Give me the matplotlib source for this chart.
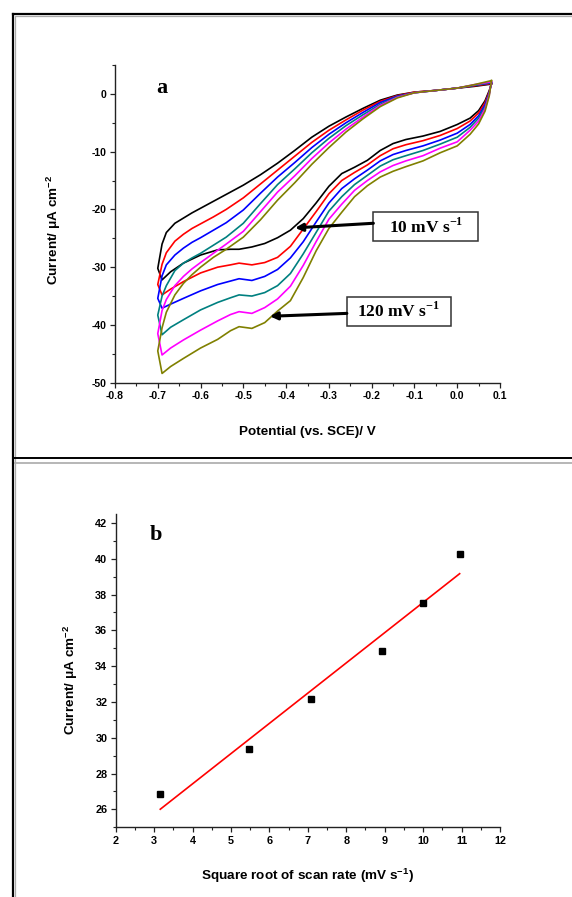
import matplotlib
matplotlib.use("Agg")

import matplotlib.pyplot as plt
from matplotlib.lines import Line2D
from matplotlib.patches import Rectangle
from matplotlib.ticker import MultipleLocator
import numpy as np

plt.rcParams["axes.unicode_minus"] = False

# ---- panel a: CVs at 10..120 mV/s ----
SCAN_RATES = [10, 30, 50, 80, 100, 120]
CV_COLORS = ["black", "red", "blue", "#008080", "magenta", "#808000"]

# anodic (upper) branch potentials, V
E_UP = [-0.700, -0.690, -0.680, -0.660, -0.640, -0.620, -0.600, -0.570, -0.540, -0.500, -0.460, -0.420,
        -0.380, -0.340, -0.300, -0.260, -0.220, -0.180, -0.140, -0.100, -0.050, 0.000, 0.040, 0.080]
UP_10 = [-30.2, -26.0, -24.0, -22.4, -21.5, -20.6, -19.8, -18.6, -17.4, -15.8, -14.0, -12.0,
         -9.8, -7.5, -5.6, -4.0, -2.5, -1.1, -0.2, 0.3, 0.6, 1.0, 1.3, 1.7]
UP_30 = [-33.0, -29.5, -27.5, -25.5, -24.3, -23.3, -22.5, -21.3, -20.0, -18.0, -15.6, -13.2,
         -10.8, -8.4, -6.3, -4.5, -2.8, -1.3, -0.3, 0.3, 0.6, 1.0, 1.4, 1.8]
UP_50 = [-35.4, -31.5, -29.6, -27.9, -26.7, -25.7, -24.9, -23.6, -22.3, -20.1, -17.2, -14.4,
         -11.9, -9.3, -7.0, -5.0, -3.2, -1.5, -0.4, 0.2, 0.6, 1.0, 1.5, 1.9]
UP_80 = [-38.3, -35.0, -33.2, -30.6, -29.3, -28.4, -27.6, -26.2, -24.8, -22.4, -19.0, -15.7,
         -13.0, -10.2, -7.7, -5.5, -3.6, -1.8, -0.5, 0.2, 0.6, 1.0, 1.5, 2.0]
UP_100 = [-41.5, -37.5, -35.6, -33.2, -31.6, -30.3, -29.2, -27.6, -26.0, -23.8, -20.4, -17.0,
          -14.2, -11.2, -8.5, -6.1, -4.0, -2.0, -0.6, 0.2, 0.6, 1.0, 1.6, 2.1]
UP_120 = [-44.5, -40.5, -37.8, -34.8, -32.8, -31.3, -30.0, -28.3, -26.9, -24.8, -21.8, -18.4,
          -15.4, -12.2, -9.3, -6.6, -4.3, -2.2, -0.7, 0.2, 0.6, 1.0, 1.6, 2.3]

# cathodic (lower) branch potentials, V
E_LOW = [0.080, 0.075, 0.065, 0.050, 0.030, 0.000, -0.040, -0.080, -0.120, -0.150, -0.180, -0.210, -0.240, -0.270,
         -0.300, -0.330, -0.360, -0.390, -0.420, -0.450, -0.480, -0.510, -0.530, -0.560, -0.600, -0.640, -0.670, -0.690]
LOW_10 = [1.7, 0.6, -1.2, -2.9, -4.2, -5.3, -6.5, -7.3, -7.9, -8.6, -9.8, -11.5, -12.7, -13.8,
          -16.0, -18.9, -21.6, -23.6, -24.9, -25.9, -26.5, -26.9, -26.9, -27.0, -27.9, -29.3, -30.8, -32.2]
LOW_30 = [1.8, 0.4, -1.5, -3.3, -4.7, -6.0, -7.2, -8.1, -8.8, -9.5, -10.7, -12.3, -13.6, -15.0,
          -17.3, -20.4, -23.4, -26.4, -28.3, -29.2, -29.6, -29.3, -29.6, -30.0, -31.0, -32.5, -33.8, -34.8]
LOW_50 = [1.9, 0.2, -1.9, -3.8, -5.3, -6.8, -8.0, -9.0, -9.8, -10.5, -11.6, -13.2, -14.7, -16.4,
          -18.9, -22.2, -25.6, -28.4, -30.4, -31.6, -32.3, -32.0, -32.4, -33.0, -34.1, -35.4, -36.4, -37.1]
LOW_80 = [2.0, 0.1, -2.3, -4.2, -5.8, -7.5, -8.7, -9.8, -10.7, -11.4, -12.5, -14.1, -15.7, -17.8,
          -20.3, -24.0, -27.7, -31.1, -33.2, -34.4, -35.0, -34.8, -35.3, -36.1, -37.4, -39.1, -40.4, -41.7]
LOW_100 = [2.1, -0.1, -2.6, -4.7, -6.3, -8.3, -9.4, -10.7, -11.6, -12.4, -13.5, -15.0, -16.7, -19.1,
           -21.7, -25.6, -29.7, -33.3, -35.5, -37.0, -38.0, -37.7, -38.2, -39.3, -40.9, -42.6, -44.0, -45.2]
LOW_120 = [2.3, -0.3, -3.0, -5.2, -7.0, -9.0, -10.2, -11.6, -12.6, -13.4, -14.4, -15.9, -17.8, -20.5,
           -23.3, -27.2, -31.8, -35.8, -37.6, -39.6, -40.6, -40.3, -41.0, -42.5, -44.0, -45.8, -47.2, -48.4]

UP_BRANCHES = [UP_10, UP_30, UP_50, UP_80, UP_100, UP_120]
LOW_BRANCHES = [LOW_10, LOW_30, LOW_50, LOW_80, LOW_100, LOW_120]

# ---- panel b: peak current vs sqrt(scan rate) ----
SQRT_RATE = [3.16, 5.48, 7.07, 8.94, 10.0, 10.95]
PEAK_CURRENT = [26.85, 29.4, 32.15, 34.85, 37.55, 40.25]

W, H = 572, 897
SANS = "Liberation Sans"
SERIF = "Liberation Serif"


def style_axes(ax, tick_size):
	for side in ["top", "right"]:
		ax.spines[side].set_visible(False)
	for side in ["left", "bottom"]:
		ax.spines[side].set_linewidth(1.0)
		ax.spines[side].set_color("#222222")
	ax.tick_params(which="major", direction="out", length=3.5, width=0.9, pad=2.5, color="#222222")
	ax.tick_params(which="minor", direction="out", length=2, width=0.8, color="#222222")
	for lab in ax.get_xticklabels() + ax.get_yticklabels():
		lab.set_fontfamily(SANS)
		lab.set_fontweight("bold")
		lab.set_fontsize(tick_size)


def px_line(fig, x0, y0, x1, y1, **kw):
	fig.add_artist(Line2D([x0 / W, x1 / W], [1 - y0 / H, 1 - y1 / H], transform=fig.transFigure, **kw))


fig = plt.figure(figsize=(W / 100, H / 100), dpi=100)
fig.patch.set_facecolor("white")

# table-like frame around the two panels
px_line(fig, 13, 14, W, 14, color="black", lw=1.6)
px_line(fig, 16, 16.5, W, 16.5, color="#aaaaaa", lw=0.9)
px_line(fig, 13, 14, 13, H, color="black", lw=1.6)
px_line(fig, 15.5, 16.5, 15.5, H, color="#aaaaaa", lw=0.9)
px_line(fig, 13, 458, W, 458, color="black", lw=1.4)
px_line(fig, 15.5, 463, W, 463, color="#aaaaaa", lw=1.2)

# ---- panel a ----
ax1 = fig.add_axes([115 / W, 1 - 382.7 / H, 385 / W, 317.7 / H])
for up, low, col in zip(UP_BRANCHES, LOW_BRANCHES, CV_COLORS):
	ax1.plot(E_LOW + E_UP, low + up, color=col, lw=1.2, solid_joinstyle="round")

ax1.set_xlim(-0.8, 0.1)
ax1.set_ylim(-50, 5)
xt = np.round(np.arange(-0.8, 0.101, 0.1), 1)
ax1.set_xticks(xt)
ax1.set_xticklabels(["%.1f" % abs(v) if abs(v) < 1e-9 else "%.1f" % v for v in xt])
ax1.xaxis.set_minor_locator(MultipleLocator(0.05))
ax1.yaxis.set_major_locator(MultipleLocator(10))
ax1.yaxis.set_minor_locator(MultipleLocator(5))
style_axes(ax1, 7.5)
ax1.set_xlabel("Potential (vs. SCE)/ V", fontfamily=SANS, fontweight="bold", fontsize=9.7)
ax1.set_ylabel(r"Current/ μA cm$^{\mathregular{-2}}$", fontfamily=SANS, fontweight="bold", fontsize=9.7)
ax1.xaxis.set_label_coords(0.5, -0.135)
ax1.yaxis.set_label_coords(-0.135, 0.48)
ax1.text(-0.703, 1.0, "a", fontfamily=SERIF, fontweight="bold", fontsize=16, ha="left", va="center")

# scan-rate call-outs
for (bx0, bx1, by0, by1), label, tail, tip in [
	((-0.196, 0.049, -25.5, -20.5), "10 mV s", (-0.196, -22.4), (-0.379, -23.2)),
	((-0.258, -0.015, -40.2, -35.1), "120 mV s", (-0.258, -38.0), (-0.438, -38.5)),
]:
	ax1.add_patch(Rectangle((bx0, by0), bx1 - bx0, by1 - by0, facecolor="white",
							edgecolor="#333333", lw=1.1, zorder=4))
	ax1.text((bx0 + bx1) / 2, (by0 + by1) / 2, label + r"$^{\mathregular{-1}}$", fontfamily=SERIF,
			 fontweight="bold", fontsize=12.5, ha="center", va="center", zorder=5)
	ax1.annotate("", xy=tip, xytext=tail,
				 arrowprops=dict(arrowstyle="-|>", lw=2.2, color="black", mutation_scale=11,
								 shrinkA=0, shrinkB=0), zorder=5)

# ---- panel b ----
ax2 = fig.add_axes([115.7 / W, 1 - 827.3 / H, 384.3 / W, 313.3 / H])
slope, icpt = np.polyfit(SQRT_RATE, PEAK_CURRENT, 1)
xfit = np.array([min(SQRT_RATE), max(SQRT_RATE)])
ax2.plot(xfit, slope * xfit + icpt, color="red", lw=1.2)
ax2.plot(SQRT_RATE, PEAK_CURRENT, "s", color="black", ms=5)

ax2.set_xlim(2, 12)
ax2.set_ylim(25, 42.5)
ax2.xaxis.set_major_locator(MultipleLocator(1))
ax2.xaxis.set_minor_locator(MultipleLocator(0.5))
ax2.set_yticks(np.arange(26, 42.1, 2))
ax2.yaxis.set_minor_locator(MultipleLocator(1))
style_axes(ax2, 7.8)
ax2.set_xlabel(r"Square root of scan rate (mV s$^{\mathregular{-1}}$)", fontfamily=SANS, fontweight="bold", fontsize=9.7)
ax2.set_ylabel(r"Current/ μA cm$^{\mathregular{-2}}$", fontfamily=SANS, fontweight="bold", fontsize=9.7)
ax2.xaxis.set_label_coords(0.5, -0.126)
ax2.yaxis.set_label_coords(-0.093, 0.47)
ax2.text(2.89, 41.3, "b", fontfamily=SERIF, fontweight="bold", fontsize=16, ha="left", va="center")

fig.savefig("out.png", dpi=100)
